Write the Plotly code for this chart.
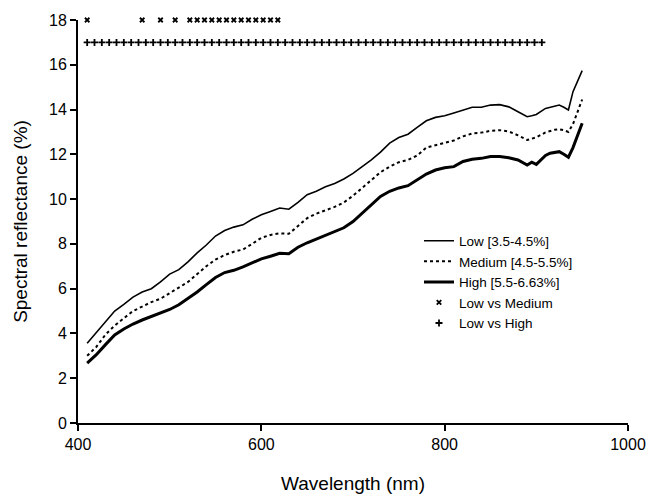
import plotly.graph_objects as go

wavelength = [410, 420, 430, 440, 450, 460, 470, 480, 490, 500,
              510, 520, 530, 540, 550, 560, 570, 580, 590, 600,
              610, 620, 630, 640, 650, 660, 670, 680, 690, 700,
              710, 720, 730, 740, 750, 760, 770, 780, 790, 800,
              810, 820, 830, 840, 850, 860, 870, 880, 890, 895, 900,
              910, 915, 920, 925, 930, 935, 940, 945, 950]

low = [3.56, 4.05, 4.5, 5.0, 5.3, 5.62, 5.85, 6.0, 6.3, 6.65,
       6.85, 7.2, 7.6, 7.95, 8.35, 8.6, 8.75, 8.85, 9.1, 9.3,
       9.45, 9.6, 9.55, 9.85, 10.2, 10.35, 10.55, 10.7, 10.9, 11.15,
       11.45, 11.75, 12.1, 12.5, 12.75, 12.9, 13.2, 13.5, 13.65, 13.72,
       13.85, 13.98, 14.1, 14.1, 14.2, 14.22, 14.12, 13.9, 13.68, 13.72, 13.78,
       14.05, 14.1, 14.15, 14.2, 14.1, 13.98, 14.8, 15.3, 15.74]

medium = [3.0, 3.4, 3.95, 4.35, 4.68, 5.0, 5.2, 5.4, 5.55, 5.8,
          6.05, 6.3, 6.65, 7.0, 7.3, 7.5, 7.65, 7.75, 8.0, 8.27,
          8.4, 8.47, 8.45, 8.8, 9.15, 9.35, 9.5, 9.65, 9.85, 10.15,
          10.5, 10.85, 11.2, 11.45, 11.65, 11.75, 11.95, 12.3, 12.4, 12.5,
          12.62, 12.8, 12.93, 12.97, 13.05, 13.08, 13.02, 12.85, 12.64, 12.7, 12.76,
          12.98, 13.05, 13.1, 13.12, 13.08, 13.0, 13.35, 13.9, 14.45]

high = [2.67, 3.05, 3.5, 3.93, 4.2, 4.42, 4.6, 4.75, 4.92, 5.07,
        5.28, 5.55, 5.85, 6.18, 6.5, 6.72, 6.82, 6.97, 7.15, 7.33,
        7.45, 7.58, 7.56, 7.85, 8.05, 8.22, 8.38, 8.55, 8.72, 9.0,
        9.38, 9.75, 10.12, 10.35, 10.5, 10.6, 10.85, 11.12, 11.3, 11.4,
        11.45, 11.68, 11.78, 11.82, 11.9, 11.9, 11.85, 11.75, 11.52, 11.65, 11.55,
        11.95, 12.05, 12.1, 12.12, 12.0, 11.87, 12.3, 12.85, 13.39]

sig_low_vs_medium = [410, 470, 490, 506, 522, 530, 538, 546, 554, 562,
                     570, 578, 586, 594, 602, 610, 618]

sig_low_vs_high = [410, 418, 426, 434, 442, 450, 458, 466, 474, 482,
                   490, 498, 506, 514, 522, 530, 538, 546, 554, 562,
                   570, 578, 586, 594, 602, 610, 618, 626, 634, 642,
                   650, 658, 666, 674, 682, 690, 698, 706, 714, 722,
                   730, 738, 746, 754, 762, 770, 778, 786, 794, 802,
                   810, 818, 826, 834, 842, 850, 858, 866, 874, 882,
                   890, 898, 906]

level_lvm = 18
level_lvh = 17

names = ["Low [3.5-4.5%]", "Medium [4.5-5.5%]", "High [5.5-6.63%]",
         "Low vs Medium", "Low vs High"]

fig = go.Figure()
fig.add_trace(go.Scatter(x=wavelength, y=low, mode="lines", name=names[0],
                         line=dict(color="black", width=1.6)))
fig.add_trace(go.Scatter(x=wavelength, y=medium, mode="lines", name=names[1],
                         line=dict(color="black", width=2, dash="dot")))
fig.add_trace(go.Scatter(x=wavelength, y=high, mode="lines", name=names[2],
                         line=dict(color="black", width=3)))
fig.add_trace(go.Scatter(x=sig_low_vs_medium, y=[level_lvm] * len(sig_low_vs_medium),
                         mode="markers", name=names[3], cliponaxis=False,
                         marker=dict(symbol="x-thin", size=4.5, color="black",
                                     line=dict(color="black", width=1.8))))
fig.add_trace(go.Scatter(x=sig_low_vs_high, y=[level_lvh] * len(sig_low_vs_high),
                         mode="markers", name=names[4], cliponaxis=False,
                         marker=dict(symbol="cross-thin", size=5, color="black",
                                     line=dict(color="black", width=1.8))))

font_family = "Arial, Liberation Sans, Helvetica, sans-serif"
fig.update_layout(
    width=664, height=498,
    margin=dict(l=78, r=36, t=20, b=75),
    paper_bgcolor="white", plot_bgcolor="white",
    font=dict(family=font_family, color="black", size=16),
    showlegend=True,
    legend=dict(x=0.62, y=0.49, xanchor="left", yanchor="top",
                bgcolor="rgba(0,0,0,0)", font=dict(size=13.5),
                tracegroupgap=0, itemwidth=30),
    xaxis=dict(range=[400, 1000], tickvals=[400, 600, 800, 1000],
               showgrid=False, zeroline=False, showline=True,
               linecolor="black", linewidth=2, ticks="outside",
               ticklen=6, tickwidth=2, tickcolor="black", automargin=False,
               title=dict(text="Wavelength (nm)", standoff=24),
               tickfont=dict(size=16)),
    yaxis=dict(range=[0, 18], tickvals=[0, 2, 4, 6, 8, 10, 12, 14, 16, 18],
               showgrid=False, zeroline=False, showline=True,
               linecolor="black", linewidth=2, ticks="outside",
               ticklen=6, tickwidth=2, tickcolor="black", automargin=False,
               title=dict(text="Spectral reflectance (%)", standoff=16),
               tickfont=dict(size=16)),
)

fig.write_html("out.html")
